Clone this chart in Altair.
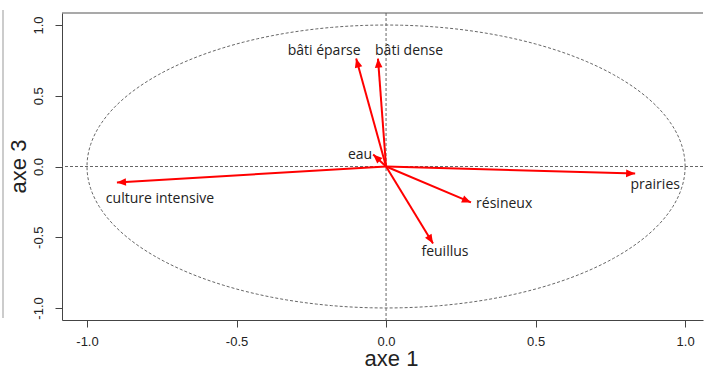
import altair as alt
import pandas as pd
import numpy as np

# ---- data ----
variables = ["culture intensive", "prairies", "résineux", "feuillus", "bâti éparse", "bâti dense", "eau"]
axe1 = [-0.90, 0.833, 0.284, 0.157, -0.100, -0.027, -0.043]
axe3 = [-0.113, -0.050, -0.254, -0.544, 0.763, 0.763, 0.085]
label_x = [-0.756, 0.900, 0.395, 0.197, -0.207, 0.077, -0.087]
label_y = [-0.233, -0.134, -0.262, -0.605, 0.813, 0.813, 0.080]
tick_values = [-1.0, -0.5, 0.0, 0.5, 1.0]

# ---- layout ----
W, H = 641, 307
XDOM = [-1.0836, 1.0598]
YDOM = [-1.085, 1.085]
px_x = W / (XDOM[1] - XDOM[0])
px_y = H / (YDOM[1] - YDOM[0])

df = pd.DataFrame({"var": variables, "x": axe1, "y": axe3, "lx": label_x, "ly": label_y})
df["angle"] = (np.degrees(np.arctan2(df["x"] * px_x, df["y"] * px_y)) + 360) % 360

t = np.linspace(0, 2 * np.pi, 241)
circle = pd.DataFrame({"i": np.arange(len(t)), "cx": np.cos(t), "cy": np.sin(t)})

xs = alt.Scale(domain=XDOM, nice=False, zero=False)
ys = alt.Scale(domain=YDOM, nice=False, zero=False)

lab_expr = "datum.value < 0 ? '-' + format(abs(datum.value), '.1f') : format(datum.value, '.1f')"

x_axis = alt.Axis(values=tick_values, labelExpr=lab_expr, grid=False, tickSize=7, labelPadding=8,
                  labelFont="Liberation Sans", labelFontSize=13, labelColor="#222",
                  domainColor="#444", tickColor="#444",
                  title="axe 1", titleFont="Liberation Sans", titleFontSize=22, titleFontWeight="normal",
                  titleColor="#222", titleX=329, titleY=45, titleBaseline="alphabetic", titleAlign="center")
y_axis = alt.Axis(values=tick_values, labelExpr=lab_expr, grid=False, tickSize=7, labelPadding=10,
                  labelAngle=270, labelAlign="center", labelBaseline="bottom",
                  labelFont="Liberation Sans", labelFontSize=13, labelColor="#222",
                  domainColor="#444", tickColor="#444",
                  title="axe 3", titleFont="Liberation Sans", titleFontSize=22, titleFontWeight="normal",
                  titleColor="#222", titleAngle=270, titleX=-37, titleY=153, titleBaseline="alphabetic",
                  titleAlign="center")

circle_layer = alt.Chart(circle).mark_line(color="#666", strokeWidth=1, strokeDash=[3, 2]).encode(
    x=alt.X("cx:Q", scale=xs, axis=x_axis),
    y=alt.Y("cy:Q", scale=ys, axis=y_axis),
    order="i:Q",
)

zero = pd.DataFrame({"v": [0.0]})
vline = alt.Chart(zero).mark_rule(color="#666", strokeWidth=1, strokeDash=[3, 2]).encode(
    x=alt.X("v:Q", scale=xs))
hline = alt.Chart(zero).mark_rule(color="#666", strokeWidth=1, strokeDash=[3, 2]).encode(
    y=alt.Y("v:Q", scale=ys))

base = alt.Chart(df)
segments = base.transform_calculate(ox="0", oy="0").mark_rule(color="#ff0000", strokeWidth=2).encode(
    x=alt.X("ox:Q", scale=xs), y=alt.Y("oy:Q", scale=ys), x2="x:Q", y2="y:Q")

arrow_path = "M0,0L-0.42,1L0.42,1Z"
heads = base.mark_point(shape=arrow_path, filled=True, size=330, color="#ff0000", opacity=1,
                        strokeWidth=0).encode(
    x=alt.X("x:Q", scale=xs), y=alt.Y("y:Q", scale=ys), angle=alt.Angle("angle:Q", scale=None))

labels = base.mark_text(font="Open Sans", fontSize=14, color="#222").encode(
    x=alt.X("lx:Q", scale=xs), y=alt.Y("ly:Q", scale=ys), text="var:N")

top_border = alt.Chart(zero).mark_rule(color="#555", strokeWidth=1.2).encode(
    x=alt.value(0), x2=alt.value(W), y=alt.value(0))
side_artifact = alt.Chart(zero).mark_rule(color="#bbb", strokeWidth=1.5).encode(
    x=alt.value(-59), y=alt.value(-3), y2=alt.value(305))

chart = alt.layer(circle_layer, vline, hline, segments, heads, labels, top_border, side_artifact).properties(
    width=W, height=H,
    autosize=alt.AutoSizeParams(type="none"),
    padding={"left": 62, "top": 13, "right": 1, "bottom": 47},
    background="white",
).configure_view(stroke=None)

chart.save("out.html", embed_options={"renderer": "svg", "actions": False})
